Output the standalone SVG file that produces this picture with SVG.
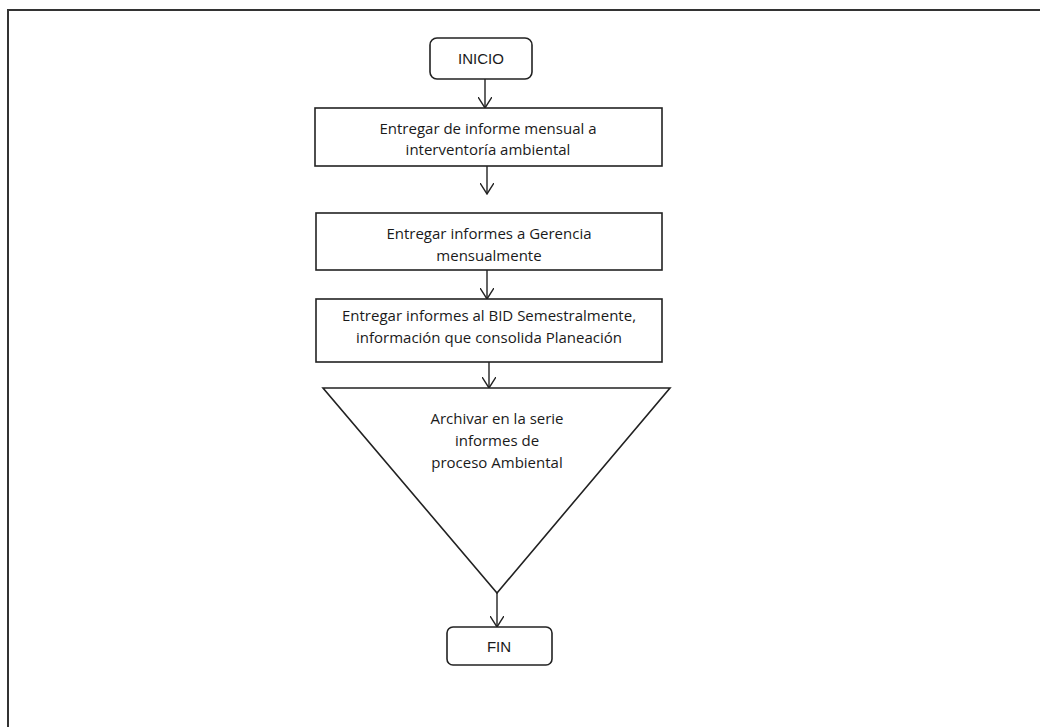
<svg xmlns="http://www.w3.org/2000/svg" width="1040" height="727" viewBox="0 0 1040 727">
<defs>
<style>
.box{fill:#fff;stroke:#222;stroke-width:1.6}
.t{font-family:"Open Sans","Noto Sans",sans-serif;font-size:15px;fill:#1a1a1a;text-anchor:middle}
.tt{font-family:"Liberation Sans",Arial,sans-serif;font-size:15px;fill:#1a1a1a;text-anchor:middle}
.c{fill:none;stroke:#222;stroke-width:1.4}
</style>
<marker id="v" viewBox="0 0 12 14" refX="11" refY="7" markerWidth="12" markerHeight="14" markerUnits="userSpaceOnUse" orient="auto">
<path d="M0,0 L11,7 L0,14" fill="none" stroke="#222" stroke-width="1.4"/>
</marker>
</defs>
<rect width="1040" height="727" fill="#fff"/>
<g id="frame">
<path d="M8,727 L8,10 L1040,10" fill="none" stroke="#333" stroke-width="2"/>
</g>
<g id="connectors">
<path class="c" d="M485,79 V108" marker-end="url(#v)"/>
<path class="c" d="M487,166 V194" marker-end="url(#v)"/>
<path class="c" d="M487,270 V299" marker-end="url(#v)"/>
<path class="c" d="M489,362 V388" marker-end="url(#v)"/>
<path class="c" d="M497,593 V627" marker-end="url(#v)"/>
</g>
<g id="inicio">
<rect class="box" x="430" y="38" width="102" height="41" rx="7"/>
<text class="tt" x="481" y="64">INICIO</text>
</g>
<g id="n1">
<rect class="box" x="315" y="108" width="347" height="58"/>
<text class="t" x="488" y="134">Entregar de informe mensual a</text>
<text class="t" x="488" y="155">interventoría ambiental</text>
</g>
<g id="n2">
<rect class="box" x="316" y="213" width="346" height="57"/>
<text class="t" x="489" y="239">Entregar informes a Gerencia</text>
<text class="t" x="489" y="261">mensualmente</text>
</g>
<g id="n3">
<rect class="box" x="316" y="299" width="346" height="63"/>
<text class="t" x="489" y="321">Entregar informes al BID Semestralmente,</text>
<text class="t" x="489" y="343">información que consolida Planeación</text>
</g>
<g id="n4">
<polygon class="box" points="323,388 670,388 497,593"/>
<text class="t" x="497" y="424">Archivar en la serie</text>
<text class="t" x="497" y="446">informes de</text>
<text class="t" x="497" y="468">proceso Ambiental</text>
</g>
<g id="fin">
<rect class="box" x="447" y="627" width="105" height="38" rx="6"/>
<text class="tt" x="499" y="652">FIN</text>
</g>
</svg>
